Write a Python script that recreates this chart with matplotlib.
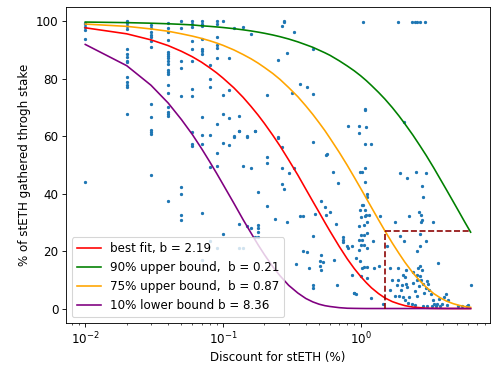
import matplotlib

matplotlib.use("Agg")
import matplotlib.pyplot as plt

plt.rcParams["font.size"] = 11

# observed (discount %, share of stETH gathered through stake %) pairs
points_low_discount = [
    (0.01, 99.6), (0.01, 99.0), (0.01, 98.0), (0.01, 97.0), (0.01, 94.0), (0.01, 44.0),
    (0.02, 100.0), (0.02, 99.4), (0.02, 98.5), (0.02, 97.3), (0.02, 90.4), (0.02, 88.6),
    (0.02, 87.5), (0.02, 86.4), (0.02, 85.8), (0.02, 80.6), (0.02, 78.8), (0.02, 78.0),
    (0.02, 77.0), (0.02, 67.8),
    (0.03, 98.8), (0.03, 97.7), (0.03, 96.2), (0.03, 95.4), (0.03, 94.7), (0.03, 93.3),
    (0.03, 91.2), (0.03, 71.1), (0.03, 66.7), (0.03, 62.3), (0.03, 61.5), (0.03, 60.7),
    (0.03, 46.5),
    (0.04, 99.4), (0.04, 97.9), (0.04, 96.2), (0.04, 93.6), (0.04, 89.2), (0.04, 88.6),
    (0.04, 87.8), (0.04, 87.2), (0.04, 86.1), (0.04, 85.2), (0.04, 83.2), (0.04, 82.3),
    (0.04, 81.7), (0.04, 77.7), (0.04, 75.0), (0.04, 70.1), (0.04, 68.4), (0.04, 67.8),
    (0.04, 66.9), (0.04, 37.3),
    (0.05, 100.0), (0.05, 97.7), (0.05, 86.4), (0.05, 83.8), (0.05, 74.2), (0.05, 42.5),
    (0.05, 39.9), (0.05, 32.6), (0.05, 30.7),
    (0.06, 100.0), (0.06, 99.0), (0.06, 98.1), (0.06, 93.3), (0.06, 90.4), (0.06, 86.4),
    (0.06, 76.5), (0.06, 73.9), (0.06, 61.5), (0.06, 57.2), (0.06, 56.5),
    (0.07, 100.0), (0.07, 99.0), (0.07, 98.5), (0.07, 93.9), (0.07, 90.4), (0.07, 89.6),
    (0.07, 88.6), (0.07, 66.7), (0.07, 60.5), (0.07, 57.2), (0.07, 33.4), (0.07, 17.0),
    (0.08, 84.7), (0.08, 80.0), (0.08, 77.3), (0.08, 60.4), (0.08, 49.4), (0.08, 23.4),
    (0.09, 100.0), (0.09, 99.1), (0.09, 94.7), (0.09, 91.8), (0.09, 90.6), (0.09, 87.2),
    (0.09, 64.3), (0.09, 54.2), (0.09, 49.6), (0.09, 21.2),
    (0.10, 100.0), (0.10, 74.4), (0.10, 67.9), (0.10, 57.5), (0.10, 26.0),
    (0.11, 87.2), (0.11, 76.3), (0.11, 66.4), (0.11, 56.8),
]

points_mid_discount = [
    (0.12, 97.7), (0.12, 60.0), (0.12, 59.9),
    (0.13, 67.1), (0.13, 62.0), (0.13, 61.8), (0.13, 29.5), (0.13, 21.2),
    (0.14, 98.1), (0.14, 49.7), (0.14, 21.2),
    (0.15, 60.0), (0.15, 28.6), (0.15, 59.9),
    (0.16, 95.8), (0.16, 48.9), (0.16, 28.0),
    (0.17, 62.0), (0.17, 61.7), (0.17, 24.8),
    (0.18, 40.5), (0.18, 29.2), (0.18, 28.0), (0.18, 24.8), (0.18, 26.8),
    (0.21, 74.4), (0.21, 52.9), (0.21, 50.6), (0.21, 35.8),
    (0.24, 31.3), (0.25, 59.6), (0.25, 59.4), (0.25, 86.6),
    (0.27, 98.5), (0.27, 48.9), (0.27, 56.2), (0.27, 43.4),
    (0.28, 100.0), (0.28, 41.7), (0.28, 99.8), (0.29, 88.9), (0.29, 30.0),
    (0.30, 47.1), (0.32, 75.2), (0.33, 96.5), (0.33, 48.9), (0.34, 15.5),
    (0.36, 78.1), (0.36, 32.1), (0.38, 32.4), (0.38, 20.1), (0.41, 77.2), (0.41, 19.7),
    (0.42, 14.1), (0.45, 74.9), (0.45, 58.1), (0.45, 90.3), (0.45, 25.1), (0.45, 8.1),
    (0.45, 7.2), (0.47, 32.9), (0.51, 16.4), (0.51, 14.9), (0.52, 37.3), (0.52, 18.8),
    (0.52, 13.5), (0.53, 16.2), (0.55, 35.5), (0.56, 53.6), (0.56, 32.6), (0.57, 54.0),
    (0.60, 33.6), (0.63, 47.4), (0.64, 16.8), (0.66, 29.4), (0.67, 8.1), (0.69, 43.6),
    (0.74, 24.8), (0.74, 23.2), (0.75, 24.0), (0.80, 21.9), (0.81, 63.6), (0.81, 21.1),
    (0.86, 21.7), (0.87, 11.8), (0.89, 5.4), (0.90, 5.5), (0.93, 17.6), (0.93, 4.9),
    (0.97, 63.6), (0.97, 61.2), (0.97, 24.0), (0.98, 28.6), (0.98, 20.5),
    (0.99, 47.4), (0.99, 34.4), (0.99, 16.4),
    (1.00, 22.2), (1.00, 31.8), (1.00, 25.7), (1.00, 11.2),
    (1.02, 47.4), (1.02, 24.0), (1.03, 14.1), (1.03, 35.9), (1.04, 99.8), (1.04, 36.1),
    (1.05, 29.2), (1.05, 25.7), (1.05, 14.3), (1.06, 22.2),
    (1.07, 48.9), (1.07, 44.2), (1.07, 69.4), (1.07, 69.0), (1.07, 57.2),
    (1.08, 34.4), (1.08, 32.3), (1.09, 32.6), (1.10, 63.3),
    (1.11, 39.8), (1.11, 39.0), (1.11, 30.3), (1.11, 14.5), (1.11, 10.7),
    (1.12, 21.1), (1.12, 26.3), (1.16, 32.6), (1.19, 57.2), (1.20, 3.7),
    (1.24, 23.4), (1.26, 14.1), (1.36, 14.9), (1.39, 32.1), (1.45, 1.7),
]

points_high_discount = [
    (1.55, 21.9), (1.63, 14.1), (1.63, 6.4), (1.68, 10.1), (1.78, 30.3), (1.78, 4.3),
    (1.83, 8.3), (1.88, 14.1), (1.88, 10.1), (1.88, 99.8), (1.91, 4.5), (1.93, 25.1),
    (1.93, 47.1), (1.95, 6.6), (1.99, 8.3), (2.02, 4.1), (2.04, 11.8), (2.07, 23.4),
    (2.07, 65.0), (2.10, 11.0), (2.10, 3.1), (2.14, 13.5), (2.14, 8.7), (2.16, 45.4),
    (2.18, 7.4), (2.22, 2.0), (2.25, 32.1), (2.26, 4.1), (2.35, 1.7), (2.38, 99.8),
    (2.39, 8.9), (2.39, 12.6), (2.48, 1.4), (2.48, 6.0), (2.48, 99.8), (2.51, 47.4),
    (2.55, 4.3), (2.55, 9.8), (2.56, 19.9), (2.58, 11.8), (2.58, 99.8), (2.63, 14.1),
    (2.67, 8.0), (2.67, 33.8), (2.68, 26.0), (2.70, 14.9), (2.70, 11.2), (2.70, 99.8),
    (2.71, 21.9), (2.73, 9.8), (2.75, 30.3), (2.75, 32.6), (2.78, 13.3), (2.78, 30.9),
    (2.78, 42.7), (2.82, 8.7), (2.82, 0.8), (2.83, 38.8), (2.89, 5.5), (2.94, 99.8),
    (2.97, 47.1), (2.99, 7.2), (3.00, 23.6), (3.02, 9.5), (3.02, 0.8), (3.10, 8.7),
    (3.16, 6.4), (3.23, 4.9), (3.28, 0.8), (3.34, 3.1), (3.35, 30.3), (3.41, 1.7),
    (3.53, 0.8), (3.61, 1.7), (3.67, 15.9), (3.73, 3.4), (3.78, 0.8), (3.88, 1.7),
    (4.04, 4.1), (4.18, 4.9), (4.22, 1.4), (4.34, 3.1), (5.13, 0.8), (5.43, 0.8),
    (5.90, 0.8), (6.07, 1.4), (6.31, 8.1),
]

# fitted curves at these discounts
curve_discount = [0.01, 0.02, 0.03, 0.04, 0.05, 0.06, 0.07, 0.08, 0.09, 0.10,
                  0.12, 0.14, 0.16, 0.18, 0.20, 0.23, 0.26, 0.30,
                  0.35, 0.40, 0.45, 0.50, 0.55, 0.60, 0.70, 0.80, 0.90, 1.00,
                  1.10, 1.20, 1.35, 1.50, 1.70, 1.90, 2.10, 2.40, 2.70, 3.00,
                  3.40, 3.80, 4.20, 4.70, 5.20, 5.70, 6.30]
best_fit = [97.8, 95.7, 93.6, 91.6, 89.6, 87.7, 85.8, 83.9, 82.1, 80.3,
            76.9, 73.6, 70.4, 67.4, 64.5, 60.4, 56.6, 51.8,
            46.5, 41.6, 37.3, 33.5, 30.0, 26.9, 21.6, 17.3, 13.9, 11.2,
            9.0, 7.2, 5.2, 3.7, 2.4, 1.6, 1.0, 0.5, 0.3, 0.1,
            0.05, 0.02, 0.01, 0.0, 0.0, 0.0, 0.0]
upper_90 = [99.8, 99.6, 99.4, 99.2, 99.0, 98.8, 98.5, 98.3, 98.1, 97.9,
            97.5, 97.1, 96.7, 96.3, 95.9, 95.3, 94.7, 93.9,
            92.9, 91.9, 91.0, 90.0, 89.1, 88.2, 86.3, 84.5, 82.8, 81.1,
            79.4, 77.7, 75.3, 73.0, 70.0, 67.1, 64.3, 60.4, 56.7, 53.3,
            49.0, 45.0, 41.4, 37.3, 33.6, 30.2, 26.6]
upper_75 = [99.1, 98.3, 97.4, 96.6, 95.7, 94.9, 94.1, 93.3, 92.5, 91.7,
            90.1, 88.5, 87.0, 85.5, 84.0, 81.9, 79.8, 77.0,
            73.8, 70.6, 67.6, 64.7, 62.0, 59.3, 54.4, 49.9, 45.7, 41.9,
            38.4, 35.2, 30.9, 27.1, 22.8, 19.2, 16.1, 12.4, 9.6, 7.4,
            5.2, 3.7, 2.6, 1.7, 1.1, 0.7, 0.4]
lower_10 = [92.0, 84.6, 77.8, 71.6, 65.8, 60.6, 55.7, 51.2, 47.1, 43.3,
            36.7, 31.0, 26.3, 22.2, 18.8, 14.6, 11.4, 8.1,
            5.4, 3.5, 2.3, 1.5, 1.0, 0.7, 0.3, 0.1, 0.05, 0.02,
            0.0, 0.0, 0.0, 0.0, 0.0, 0.0, 0.0, 0.0, 0.0, 0.0,
            0.0, 0.0, 0.0, 0.0, 0.0, 0.0, 0.0]

curve_labels = ["best fit, b = 2.19", "90% upper bound,  b = 0.21",
                "75% upper bound,  b = 0.87", "10% lower bound b = 8.36"]
curve_colors = ["red", "green", "orange", "purple"]

# dashed marker: 1.5% discount, read on the 75% curve
mark_discount = 1.5
mark_share = 27.1
mark_end = 6.3

fig, ax = plt.subplots(figsize=(6.4, 4.8), dpi=78.125)

all_points = points_low_discount + points_mid_discount + points_high_discount
ax.scatter([p[0] for p in all_points], [p[1] for p in all_points],
           s=4, color="#1f77b4")

for ys, lab, col in zip([best_fit, upper_90, upper_75, lower_10], curve_labels, curve_colors):
    ax.plot(curve_discount, ys, color=col, label=lab)

ax.plot([mark_discount, mark_discount], [0, mark_share], "--", color="darkred")
ax.plot([mark_discount, mark_end], [mark_share, mark_share], "--", color="darkred")

ax.set_xscale("log")
ax.set_xlabel("Discount for stETH (%)")
ax.set_ylabel("% of stETH gathered throgh stake")
ax.legend(loc="lower left")

fig.subplots_adjust(left=0.132, right=0.98, top=0.981, bottom=0.139)
fig.savefig("out.png", dpi=78.125)
